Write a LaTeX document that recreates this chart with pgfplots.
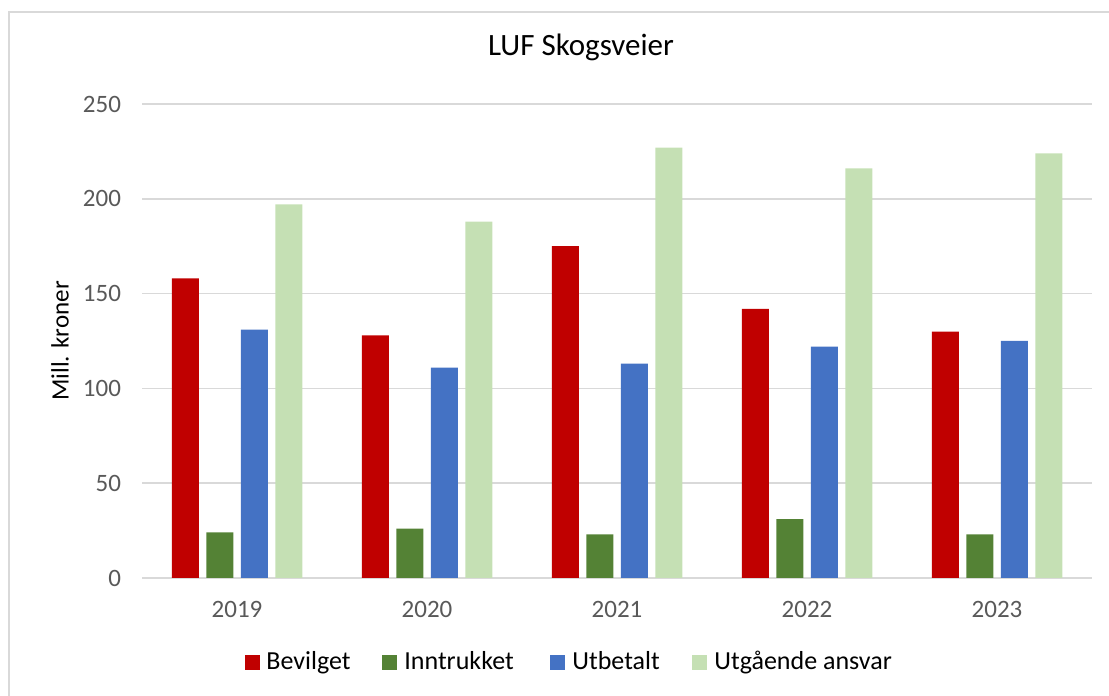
\documentclass[border=0pt]{standalone}
\usepackage{pgfplots}
\pgfplotsset{compat=1.18}
\usepackage{fontspec}
\setmainfont{Carlito}
\definecolor{cRed}{HTML}{C00000}
\definecolor{cGreen}{HTML}{548235}
\definecolor{cBlue}{HTML}{4472C4}
\definecolor{cLight}{HTML}{C5E0B4}
\definecolor{cGrid}{HTML}{D9D9D9}
\definecolor{cTick}{HTML}{595959}
\begin{document}
\begin{tikzpicture}
\useasboundingbox (0,0) rectangle (554.5pt,348pt);
\begin{scope}
\clip (0,0) rectangle (554.5pt,348pt);
\draw[cGrid, line width=1pt] (4.5pt,-5pt) -- (4.5pt,342pt) -- (560pt,342pt);
\end{scope}
\begin{axis}[
  at={(71pt,59pt)}, anchor=south west,
  scale only axis, width=475pt, height=237pt,
  ybar=3.75pt, bar width=13.5pt,
  xmin=-0.5, xmax=4.5, ymin=0, ymax=250,
  xtick={0,1,2,3,4}, xticklabels={2019,2020,2021,2022,2023},
  ytick={0,50,100,150,200,250},
  ymajorgrids, grid style={cGrid, line width=0.75pt},
  axis x line*=bottom, axis y line*=left,
  y axis line style={draw=none},
  x axis line style={cGrid, line width=1pt, -},
  xtick style={draw=none}, ytick style={draw=none},
  tick label style={font=\fontsize{12.5}{14}\selectfont, text=cTick},
  /pgf/number format/assume math mode=true,
  yticklabel style={xshift=-7pt},
  xticklabel style={yshift=-4pt},
  clip=false,
]
\addplot[fill=cRed, draw=none] coordinates {(0,158) (1,128) (2,175) (3,142) (4,130)};
\addplot[fill=cGreen, draw=none] coordinates {(0,24) (1,26) (2,23) (3,31) (4,23)};
\addplot[fill=cBlue, draw=none] coordinates {(0,131) (1,111) (2,113) (3,122) (4,125)};
\addplot[fill=cLight, draw=none] coordinates {(0,197) (1,188) (2,227) (3,216) (4,224)};
\end{axis}
\node[rotate=90, font=\fontsize{12.5}{15}\selectfont] at (30pt,177.5pt) {Mill. kroner};
\node[font=\fontsize{15.5}{18}\selectfont] at (290.5pt,324.5pt) {LUF Skogsveier};
\begin{scope}[font=\fontsize{13}{15}\selectfont]
\fill[cRed] (122.5pt,13pt) rectangle +(7.5pt,7.5pt);
\node[anchor=base west, inner sep=0pt] at (133pt,13pt) {Bevilget};
\fill[cGreen] (191pt,13pt) rectangle +(7.5pt,7.5pt);
\node[anchor=base west, inner sep=0pt] at (202pt,13pt) {Inntrukket};
\fill[cBlue] (275pt,13pt) rectangle +(7.5pt,7.5pt);
\node[anchor=base west, inner sep=0pt] at (286pt,13pt) {Utbetalt};
\fill[cLight] (346pt,13pt) rectangle +(7.5pt,7.5pt);
\node[anchor=base west, inner sep=0pt] at (357pt,13pt) {Utgående ansvar};
\end{scope}
\end{tikzpicture}
\end{document}
